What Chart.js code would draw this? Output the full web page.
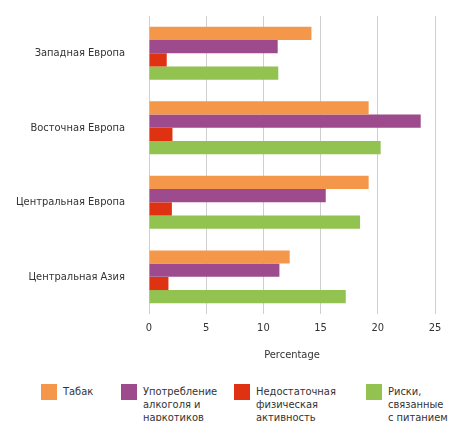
<!DOCTYPE html>
<html>
<head>
<meta charset="utf-8">
<script src="https://cdn.jsdelivr.net/npm/chart.js@4.4.1/dist/chart.umd.min.js"></script>
<style>
  body { margin: 0; background: #fff; font-family: "DejaVu Sans Condensed", sans-serif; }
  #wrap { position: relative; width: 449px; height: 421px; overflow: hidden; }
  #box { position: absolute; left: 0; top: 0; width: 449px; height: 370px; }
  #legenda { position: absolute; left: 0; top: 384px; width: 449px; font-size: 11px; line-height: 13px; color: #333; }
  .item { position: absolute; top: 0; }
  .item .cor { position: absolute; left: 0; top: 0; width: 16px; height: 16px; }
  .item .txt { position: absolute; top: 1px; white-space: nowrap; }
</style>
</head>
<body>
<div id="wrap">
  <div id="box"><canvas id="grafico"></canvas></div>
  <div id="legenda"></div>
</div>
<script>
// dados
const regioes = ["Западная Европа", "Восточная Европа", "Центральная Европа", "Центральная Азия"];

const tabak = [14.2, 19.2, 19.2, 12.3];
const alkogol = [11.25, 23.75, 15.45, 11.4];
const aktivnost = [1.55, 2.05, 2.0, 1.7];
const pitanie = [11.3, 20.25, 18.45, 17.2];

const nomesSeries = [
    ["Табак"],
    ["Употребление", "алкоголя и", "наркотиков"],
    ["Недостаточная", "физическая", "активность"],
    ["Риски,", "связанные", "с питанием"]
];
const cores = ["#F5974B", "#9D4B8D", "#DF3213", "#92C250"];
const ticksX = [0, 5, 10, 15, 20, 25];
const tituloX = "Percentage";

const fonte = "'DejaVu Sans Condensed', sans-serif";
const valores = [tabak, alkogol, aktivnost, pitanie];

const datasets = valores.map((v, i) => ({
    label: nomesSeries[i].join(" "),
    data: v,
    backgroundColor: cores[i],
    borderWidth: 0,
    barPercentage: 1,
    categoryPercentage: 0.71
}));

const ctx = document.getElementById("grafico").getContext("2d");

let grafico = new Chart(ctx, {
    type: "bar",
    data: {
        labels: regioes,
        datasets: datasets
    },
    options: {
        indexAxis: "y",
        responsive: true,
        maintainAspectRatio: false,
        animation: false,
        layout: { padding: { top: 16, right: 14, left: 0, bottom: 8 } },
        plugins: {
            legend: { display: false },
            tooltip: { enabled: false }
        },
        scales: {
            x: {
                min: ticksX[0],
                max: ticksX[ticksX.length - 1],
                afterBuildTicks: (scale) => { scale.ticks = ticksX.map(v => ({ value: v })); },
                grid: { color: "#cfcfcf", lineWidth: 1, drawTicks: false },
                border: { display: false },
                ticks: { color: "#333", padding: 7, font: { family: fonte, size: 11 } },
                title: { display: true, text: tituloX, color: "#333", padding: { top: 7.5, bottom: 0 }, font: { family: fonte, size: 11 } }
            },
            y: {
                grid: { display: false, drawTicks: false },
                border: { display: false },
                afterFit: (scale) => {
                    scale.width = 149;
                    scale.paddingTop = 0;
                    scale.paddingBottom = 0;
                },
                ticks: { color: "#333", padding: 24, font: { family: fonte, size: 11 } }
            }
        }
    }
});

// legenda em html (os textos quebram em varias linhas)
const posLegenda = [41, 121, 234, 366];
const legenda = document.getElementById("legenda");
nomesSeries.forEach((linhas, i) => {
    const div = document.createElement("div");
    div.className = "item";
    div.style.left = posLegenda[i] + "px";
    div.innerHTML = `<div class="cor" style="background:${cores[i]}"></div>
        <div class="txt" style="left:22px">${linhas.join("<br>")}</div>`;
    legenda.appendChild(div);
});
</script>
</body>
</html>
